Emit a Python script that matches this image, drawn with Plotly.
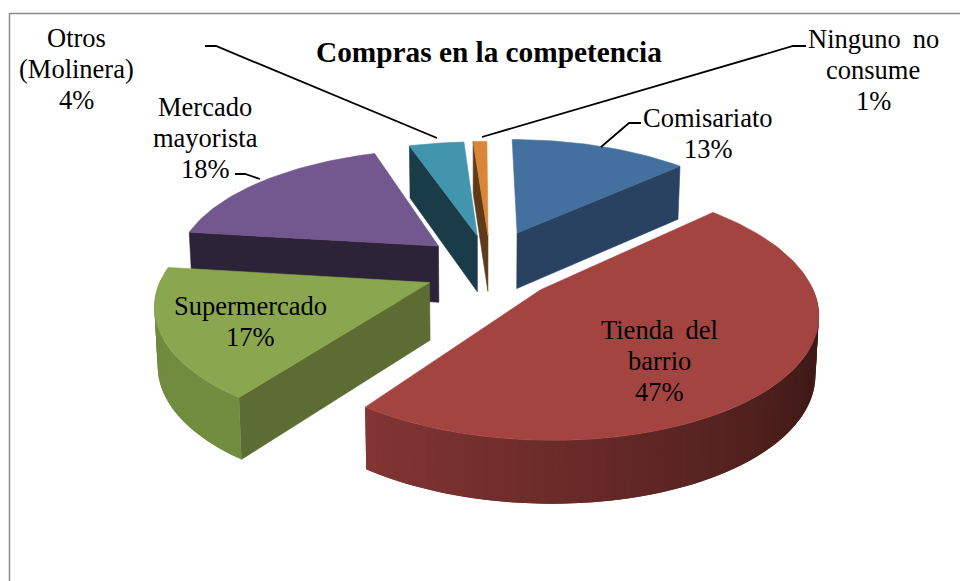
import numpy as np
import plotly.graph_objects as go

# Datos
categories = ["Comisariato", "Tienda del barrio", "Supermercado", "Mercado mayorista", "Otros (Molinera)", "Ninguno no consume"]
values = [13, 47, 17, 18, 4, 1]
title_text = "Compras en la competencia"

# colores: tapa, pared, borde curvo (inicio, fin)
top_colors = ["#44709f", "#a44441", "#8aa64e", "#72588e", "#4195ad", "#da8538"]
wall_colors = ["#2a4262", "#6b2c2a", "#5c6c32", "#2d2338", "#1a3c48", "#5e3a18"]
rim_front = ["#2a4262", "#3f1a17", "#7a9642", "#2d2338", "#1a3c48", "#5e3a18"]
rim_back = ["#2a4262", "#833533", "#6f893e", "#2d2338", "#1a3c48", "#5e3a18"]

# separacion de cada porcion y ajustes finos
pull = [0.32, 0.31, 0.22, 0.21, 0.27, 0.27]
nudge_x = [0.02, -0.01, 0.015, 0.0, 0.04, 0.04]
nudge_y = [0.0, -0.01, 0.05, -0.04, 0.0, 0.0]
draw_order = [5, 4, 0, 3, 2, 1]

# proyeccion en perspectiva
CX, CY = 480, 266
A, B = 264, 118
K = 0.16
T = 57


def project(X, Y, bottom=False):
    X, Y = np.asarray(X, float), np.asarray(Y, float)
    s = 1 / (1 - K * Y)
    px = CX + A * X * s
    py = CY + B * Y * s
    if bottom:
        px = CX + (px - CX) * 0.99
        py = py + T * np.sqrt(s)
    return px, py


def hex_mix(c1, c2, t):
    a = [int(c1[i:i + 2], 16) for i in (1, 3, 5)]
    b = [int(c2[i:i + 2], 16) for i in (1, 3, 5)]
    return "rgb({},{},{})".format(*[round(a[i] + (b[i] - a[i]) * t) for i in range(3)])


fig = go.Figure()


def add_poly(x, y, color, width=0.6):
    fig.add_trace(go.Scatter(x=list(x), y=list(y), mode="lines", fill="toself", fillcolor=color,
                             line=dict(color=color, width=width), hoverinfo="skip", showlegend=False))


edges = np.cumsum([0] + values) / sum(values) * 2 * np.pi

for i in draw_order:
    a0, a1 = edges[i], edges[i + 1]
    mid = (a0 + a1) / 2
    ox = pull[i] * np.sin(mid) + nudge_x[i]
    oy = -pull[i] * np.cos(mid) + nudge_y[i]
    ang = np.linspace(a0, a1, max(int(values[i] * 3), 6) + 1)
    rx = ox + np.sin(ang)
    ry = oy - np.cos(ang)

    # paredes rectas que miran al frente
    if -np.cos(a0 - np.pi / 2) > 0:
        tx, ty = project([ox, rx[0]], [oy, ry[0]])
        bx, by = project([ox, rx[0]], [oy, ry[0]], bottom=True)
        add_poly(np.r_[tx, bx[::-1], tx[0]], np.r_[ty, by[::-1], ty[0]], wall_colors[i])
    if -np.cos(a1 + np.pi / 2) > 0.05:
        tx, ty = project([ox, rx[-1]], [oy, ry[-1]])
        bx, by = project([ox, rx[-1]], [oy, ry[-1]], bottom=True)
        add_poly(np.r_[tx, bx[::-1], tx[0]], np.r_[ty, by[::-1], ty[0]], wall_colors[i])

    # borde curvo con degradado: cada tramo pisa al siguiente para que no queden costuras
    for j in range(len(ang) - 1):
        m = (ang[j] + ang[j + 1]) / 2
        if -np.cos(m) <= -0.02:
            continue
        tx, ty = project(rx[j:j + 3], ry[j:j + 3])
        bx, by = project(rx[j:j + 3], ry[j:j + 3], bottom=True)
        t = (m - np.pi / 2) / (a1 - np.pi / 2)
        t = min(max(t, 0), 1)
        if i == 1:
            t = min(max((m - np.radians(115)) / (a1 - np.radians(115)), 0), 1)
        add_poly(np.r_[tx, bx[::-1], tx[0]], np.r_[ty, by[::-1], ty[0]], hex_mix(rim_front[i], rim_back[i], t), width=0)

    # tapa
    px, py = project(np.r_[ox, rx, ox], np.r_[oy, ry, oy])
    add_poly(px, py, top_colors[i])

# etiquetas, una anotacion por renglon para fijar el interlineado
label_lines = [["Comisariato"], ["Tienda\u2009 del", "barrio"], ["Supermercado"],
               ["Mercado", "mayorista"], ["Otros", "(Molinera)"], ["Ninguno\u2009 no", "consume"]]
label_pos = [(708, 118), (659, 330), (250, 306), (205, 107), (76, 38), (873, 39)]
LINE_H = 31
serif = "Liberation Serif, Times New Roman, serif"
for lines, v, (lx, ly) in zip(label_lines, values, label_pos):
    for n, text in enumerate(lines + [f"{v}%"]):
        fig.add_annotation(x=lx, y=ly + n * LINE_H, text=text, showarrow=False, xanchor="center", yanchor="middle",
                           font=dict(family=serif, size=26.5, color="black"))

fig.add_annotation(x=489, y=52, text="<b>" + title_text + "</b>", showarrow=False, xanchor="center", yanchor="middle",
                   font=dict(family=serif, size=29.3, color="black"))

# lineas guia
leaders = [
    "M 641 123 L 629 123 L 601 147",
    "M 806 46 L 793 46 L 482 137",
    "M 205 46 L 216 46 L 437 138",
    "M 235 174 L 245 174 L 260 179",
]
shapes = [dict(type="path", path=p, line=dict(color="black", width=1.8)) for p in leaders]
# marco del area del grafico
shapes.append(dict(type="path", path="M 9.5 581 L 9.5 13.5 L 960 13.5", line=dict(color="#8a8a8a", width=1.5)))

fig.update_layout(
    width=960, height=581, margin=dict(l=0, r=0, t=0, b=0),
    paper_bgcolor="white", plot_bgcolor="white", showlegend=False, shapes=shapes,
    xaxis=dict(range=[0, 960], visible=False, fixedrange=True),
    yaxis=dict(range=[581, 0], visible=False, fixedrange=True),
)
fig.write_html("out.html", post_script="document.body.style.margin='0';", config=dict(displayModeBar=False))
